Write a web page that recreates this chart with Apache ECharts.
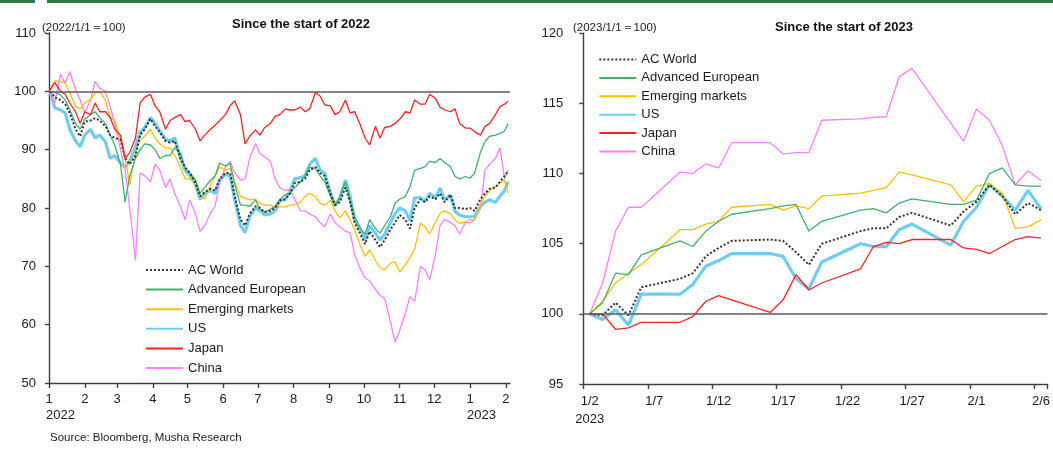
<!DOCTYPE html>
<html><head><meta charset="utf-8">
<script src="https://cdn.jsdelivr.net/npm/echarts@6/dist/echarts.min.js"></script>
<style>html,body{margin:0;padding:0;background:#fff}#c{width:1053px;height:452px}</style>
</head><body><div id="c"></div>
<script>
// ---------- texts ----------
const leftTitle = 'Since the start of 2022';
const rightTitle = 'Since the start of 2023';
const leftUnit = '(2022/1/1\uFF1D100)';
const rightUnit = '(2023/1/1\uFF1D100)';
const sourceText = 'Source: Bloomberg, Musha Research';
const names = ['AC World', 'Advanced European', 'Emerging markets', 'US', 'Japan', 'China'];

// ---------- left chart (since start of 2022) ----------
const leftAxisStart = '2022-01-01';
const leftAxisEnd = '2023-02-04 16:00';
const leftMonthTicks = ['2022-01-01','2022-02-01','2022-03-01','2022-04-01','2022-05-01','2022-06-01','2022-07-01','2022-08-01','2022-09-01','2022-10-01','2022-11-01','2022-12-01','2023-01-01','2023-02-01'];
const leftMonthLabels = ['1','2','3','4','5','6','7','8','9','10','11','12','1','2'];
const leftYearTicks = ['2022-01-01','2023-01-01'];
const leftYearLabels = ['2022','2023'];
const leftDates = ['2022-01-02','2022-01-06','2022-01-11','2022-01-15','2022-01-19','2022-01-24','2022-01-28','2022-02-01','2022-02-06','2022-02-10',
'2022-02-14','2022-02-19','2022-02-23','2022-02-27','2022-03-04','2022-03-08','2022-03-12','2022-03-17','2022-03-21','2022-03-25',
'2022-03-30','2022-04-03','2022-04-07','2022-04-12','2022-04-16','2022-04-20','2022-04-25','2022-04-29','2022-05-03','2022-05-08',
'2022-05-12','2022-05-16','2022-05-21','2022-05-25','2022-05-29','2022-06-03','2022-06-07','2022-06-11','2022-06-16','2022-06-20',
'2022-06-24','2022-06-29','2022-07-03','2022-07-07','2022-07-12','2022-07-16','2022-07-20','2022-07-25','2022-07-29','2022-08-02',
'2022-08-07','2022-08-11','2022-08-15','2022-08-20','2022-08-24','2022-08-28','2022-09-02','2022-09-06','2022-09-10','2022-09-15',
'2022-09-19','2022-09-23','2022-09-28','2022-10-02','2022-10-06','2022-10-11','2022-10-15','2022-10-19','2022-10-24','2022-10-28',
'2022-11-01','2022-11-06','2022-11-10','2022-11-14','2022-11-19','2022-11-23','2022-11-27','2022-12-02','2022-12-06','2022-12-10',
'2022-12-15','2022-12-19','2022-12-23','2022-12-28','2023-01-01','2023-01-05','2023-01-10','2023-01-14','2023-01-18','2023-01-23',
'2023-01-27','2023-01-31','2023-02-03'];

const leftACWorld = [100,99,98.5,97.8,96.3,93.5,92.3,94.8,95,95.4,
95,94,92.5,92,91.7,88.5,87.5,89,92.5,93.5,
95.3,94,93,91.5,91.2,91.5,88.5,87,86,84.3,
82,82.7,83.3,83,85,86,86,82,78,77,
79,80.3,80,79.3,79.5,80,81.3,81.5,82.5,84.3,
84.5,85,86.5,87,86,85.5,82.5,80.5,81,83.5,
81,77.5,75.5,73.8,76,74.5,73.3,74.5,76.3,77.5,
78.8,78,76.5,80,81.5,81,82,81.5,82.5,81,
82.3,80,80,79.8,80,79.5,81.5,82.5,83.3,83.5,
84.5,85.5,86.3];
const leftEurope = [100,99.8,99.4,98.5,96.8,94.5,93.5,95.2,96,96.5,
95.5,94.5,92.5,90.8,87.5,81,85.5,88.5,90,91,
90.8,90,88.5,89,89,90.3,89.5,86.8,86,84.8,
82.5,83.5,84.8,85.5,87.7,87.2,87.7,84,80.5,80.5,
80.3,81.4,79.7,79.3,79.8,80.3,81.4,82.3,82.5,83.5,
84.5,85.5,87,86.8,85.5,84.5,82,80.3,82,84.5,
81.5,78.5,76.5,75.5,78,76.5,75.7,77,78.5,80.8,
81.5,82,83.7,86.5,86.8,87.1,88,87.8,88.5,87.8,
87.1,85.4,85,85.4,85.1,86,89.5,91.4,92.3,92.5,
92.8,93.2,94.5];
const leftEM = [100,101.8,101.7,101.4,99.8,97.4,97,98,98.6,99.7,
100,98.5,95.5,95,91.5,88.8,84,89.5,91.7,92.3,
93.5,92,91,90.3,90.3,89,87,85,85,84.3,
82,81.5,84,85.5,87,86.5,86.8,84.5,82,81.7,
81.4,81.5,80.8,80.5,80.5,80,80.2,80.2,80.5,80.6,
81,82,82.5,82,80.8,80.5,81.3,79.5,78.3,79.5,
78,76.3,73.5,71.7,72.8,71,69.8,69.4,70.5,70.8,
69,70.3,71.5,73,77.4,76.8,75.5,77.5,79.1,79.5,
79,78,77.4,77.6,78,78,80.3,82,83,83.7,
84.3,84.8,82.5];
const leftUS = [100,97.2,96.8,96.3,93.5,91.5,90.5,92.5,93.5,92,
92.5,91.3,88.5,89,87.7,87,88,90.5,93,93.8,
95.5,94.5,93.2,91.8,91.5,92,88.5,86.5,85.6,84,
81.5,82.5,83,82.5,84.7,85.8,85.5,81.5,77,75.8,
78.5,80,79.5,78.8,79,79.5,81.2,81.5,83,85,
85.2,85.5,87.5,88.5,86.5,86,82.5,80.5,81.5,84.8,
82,78,76.3,74.5,77,75.7,74.5,75.5,77.5,79,
80,79.5,77.8,81.7,81.8,81.1,82.5,81.8,83.4,81.4,
82.2,79.4,78.8,78.5,78.5,78.5,80.3,81,81.4,81,
82,83,84.5];
const leftJapan = [100.3,101.5,100,99.5,98,96.5,94.5,96.5,96,98,
96.5,96.5,95.5,93.5,92.5,88.5,89.5,92,98,99,
99.5,97.5,96.5,93.5,95,95.5,96,94.8,95,93.5,
91.5,92.5,93.5,94.2,95,96,97.5,98.4,96,91,
92.3,93.4,92.5,93.8,94.5,95.7,96,97,96.8,96.8,
97.3,96.5,97,99.8,99.2,97.7,97.5,96,96.5,98.5,
96.3,96.5,94.2,92,90.8,94,92,93.8,94,94.5,
95.2,96.5,96.3,98.5,97.8,97.8,99.5,98.8,97.3,96.8,
96.5,97,94.5,93.7,93.7,93.1,92.5,94,94.5,96,
97.4,97.8,98.3];
const leftChina = [100,98,103,101.4,103.4,100.3,98.5,96.3,98.5,101.7,
100.5,100,97.5,94.5,90,86.5,80,71,86,85.5,
84.5,87.5,86.5,83.5,85,82.5,80.3,78,81.4,79,
76,77,79.1,80.3,84.5,87,88,86,84.8,85,
88.5,91,89.3,88.8,88,85,83.5,83,83.2,81.5,
79.5,79.5,79,78.5,77.5,76.8,79,77.5,76.8,76,
75.8,72,69.5,68,67.5,66,65,64.5,60.5,57,
59,62,64.8,64,70,69.4,67.7,72,77,78,
77.5,77,75.5,77.5,77.5,78,80,86.5,87.5,88.5,
90.3,85,86.5];

// ---------- right chart (since start of 2023) ----------
const rightDays = ['1/2','1/3','1/4','1/5','1/6','1/7','1/8','1/9','1/10','1/11','1/12','1/13','1/14','1/15','1/16','1/17','1/18','1/19','1/20','1/21','1/22','1/23','1/24','1/25','1/26','1/27','1/28','1/29','1/30','1/31','2/1','2/2','2/3','2/4','2/5','2/6'];
const rightYearLabel = '2023';
const rightDates = ['1/2','1/3','1/4','1/5','1/6','1/9','1/10','1/11','1/12','1/13','1/16','1/17','1/18','1/19','1/20','1/23','1/24','1/25','1/26','1/27','1/30','1/31','2/1','2/2','2/3','2/4','2/5','2/6'];
const rightACWorld = [100,99.9,100.8,99.9,101.9,102.5,102.9,104.1,104.7,105.2,105.3,105.2,104.4,103.5,105.0,105.9,106.1,106.1,106.9,107.2,106.3,107.3,108.0,109.2,108.4,107.1,107.9,107.4];
const rightEurope = [100,100.8,102.9,102.8,104.2,105.2,104.8,105.9,106.6,107.1,107.5,107.7,107.8,105.9,106.6,107.4,107.5,107.2,107.9,108.2,107.8,107.8,108.1,110.0,110.4,109.2,109.1,109.1];
const rightEM = [100,100.9,102.2,102.9,103.5,106.0,106.0,106.4,106.6,107.6,107.8,107.4,107.7,107.5,108.4,108.6,108.8,109.0,110.1,109.9,109.2,108.0,109.1,109.3,108.6,106.1,106.2,106.7];
const rightUS = [100,99.6,100.3,99.2,101.4,101.4,102.1,103.4,103.8,104.3,104.3,104.1,102.5,101.8,103.7,105.0,104.8,104.8,106.0,106.4,104.9,106.6,107.6,109.2,108.4,107.4,108.8,107.5];
const rightJapan = [100,100.0,98.9,99.0,99.4,99.4,99.8,100.9,101.3,101.0,100.1,101.0,102.8,101.7,102.2,103.2,104.8,105.1,105.0,105.3,105.3,104.7,104.6,104.3,104.8,105.3,105.5,105.4];
const rightChina = [100,102.2,105.9,107.6,107.6,110.1,110.0,110.7,110.4,112.2,112.2,111.4,111.5,111.5,113.8,113.9,114.0,114.05,116.9,117.5,113.6,112.3,114.6,113.8,112.0,109.2,110.2,109.5];

// ---------- styles ----------
const FONT = 'Liberation Sans, Arial, sans-serif';
const styles = {
  'AC World':          {color:'#333333', width:2,   type:'dotted'},
  'Advanced European': {color:'#3fb26a', width:1.3, type:'solid'},
  'Emerging markets':  {color:'#ffc000', width:1.3, type:'solid'},
  'US':                {color:'#6dcdf3', width:3.2, type:'solid'},
  'Japan':             {color:'#ff2020', width:1.3, type:'solid'},
  'China':             {color:'#ff80ff', width:1.3, type:'solid'}
};
const leftVals = {'AC World':leftACWorld,'Advanced European':leftEurope,'Emerging markets':leftEM,'US':leftUS,'Japan':leftJapan,'China':leftChina};
const rightVals = {'AC World':rightACWorld,'Advanced European':rightEurope,'Emerging markets':rightEM,'US':rightUS,'Japan':rightJapan,'China':rightChina};
const drawOrder = ['US','China','Emerging markets','Advanced European','AC World','Japan'];

const tp = s => +echarts.time.parse(s);
const leftMonthTs = leftMonthTicks.map(tp);
const leftYearTs = leftYearTicks.map(tp);
const baseLine = {silent:true, symbol:'none', label:{show:false}, lineStyle:{color:'#5a5a5a', width:1.5, type:'solid'}, data:[{yAxis:100}]};

const series = [];
drawOrder.forEach(n => {
  const st = styles[n];
  const s = {
    name:n, type:'line', xAxisIndex:0, yAxisIndex:0, symbol:'none', animation:false,
    lineStyle:{color:st.color, width:st.width, type:st.type}, itemStyle:{color:st.color},
    data: leftDates.map((d,i) => [tp(d), leftVals[n][i]])
  };
  if (n === 'Japan') s.markLine = baseLine;
  series.push(s);
});
drawOrder.forEach(n => {
  const st = styles[n];
  const s = {
    name:n, type:'line', xAxisIndex:2, yAxisIndex:1, symbol:'none', animation:false, connectNulls:true,
    lineStyle:{color:st.color, width:st.width, type:st.type}, itemStyle:{color:st.color},
    data: rightDays.map(d => { const k = rightDates.indexOf(d); return k < 0 ? null : rightVals[n][k]; })
  };
  if (n === 'Japan') s.markLine = baseLine;
  series.push(s);
});

const axisLineStyle = {color:'#404040', width:1.4};
const labelStyle = {color:'#1a1a1a', fontSize:13, fontFamily:FONT};
const legendText = {fontSize:13, color:'#1a1a1a', fontFamily:FONT};

const option = {
  backgroundColor:'#fff',
  animation:false,
  textStyle:{fontFamily:FONT},
  graphic:[
    {type:'rect', shape:{x:0,y:0,width:35,height:3}, style:{fill:'#2f7a42'}},
    {type:'rect', shape:{x:47,y:0,width:1006,height:3}, style:{fill:'#2f7a42'}}
  ],
  title:[
    {text:leftTitle, left:296, top:13, textAlign:'center', textStyle:{fontSize:13, fontWeight:'bold', color:'#111', fontFamily:FONT}},
    {text:rightTitle, left:839, top:15.5, textAlign:'center', textStyle:{fontSize:13, fontWeight:'bold', color:'#111', fontFamily:FONT}},
    {text:leftUnit, left:37, top:16.5, textStyle:{fontSize:11.5, fontWeight:'normal', color:'#1a1a1a', fontFamily:FONT}},
    {text:rightUnit, left:568, top:16.5, textStyle:{fontSize:11.5, fontWeight:'normal', color:'#1a1a1a', fontFamily:FONT}},
    {text:sourceText, left:45, top:427, textStyle:{fontSize:11.5, fontWeight:'normal', color:'#1a1a1a', fontFamily:FONT}}
  ],
  legend:[
    {data:names, orient:'vertical', left:140, top:258.5, itemWidth:37, itemHeight:14, itemGap:6.6,
     itemStyle:{opacity:0}, textStyle:legendText, selectedMode:false},
    {data:names, orient:'vertical', left:593.3, top:48, itemWidth:37, itemHeight:14, itemGap:5.4,
     itemStyle:{opacity:0}, textStyle:legendText, selectedMode:false}
  ],
  grid:[
    {left:49, top:33, width:461, height:350},
    {left:583.3, top:33.3, width:465.2, height:350.7}
  ],
  xAxis:[
    {type:'value', gridIndex:0, min:tp(leftAxisStart), max:tp(leftAxisEnd), position:'bottom', scale:true,
     axisLine:{onZero:false, lineStyle:axisLineStyle},
     axisTick:{show:true, length:5, customValues:leftMonthTs, lineStyle:axisLineStyle},
     axisLabel:Object.assign({customValues:leftMonthTs, margin:10, hideOverlap:false, showMinLabel:true, showMaxLabel:true,
       formatter:v => { const k = leftMonthTs.indexOf(+v); return k < 0 ? '' : leftMonthLabels[k]; }}, labelStyle),
     splitLine:{show:false}},
    {type:'value', gridIndex:0, min:tp(leftAxisStart), max:tp(leftAxisEnd), position:'bottom', scale:true,
     axisLine:{show:false, onZero:false}, axisTick:{show:false}, splitLine:{show:false},
     axisLabel:Object.assign({customValues:leftYearTs, margin:26, align:'left', padding:[0,0,0,-3], hideOverlap:false, showMinLabel:true,
       formatter:v => { const k = leftYearTs.indexOf(+v); return k < 0 ? '' : leftYearLabels[k]; }}, labelStyle)},
    {type:'category', gridIndex:1, data:rightDays, boundaryGap:true, position:'bottom',
     axisLine:{onZero:false, lineStyle:axisLineStyle},
     axisTick:{show:true, interval:4, length:5, alignWithLabel:false, lineStyle:axisLineStyle},
     axisLabel:Object.assign({interval:4, margin:8, lineHeight:18,
       formatter:(v,i) => i === 0 ? v + '\n' + rightYearLabel : v}, labelStyle),
     splitLine:{show:false}}
  ],
  yAxis:[
    {type:'value', gridIndex:0, min:50, max:110, interval:10,
     axisLine:{show:true, lineStyle:axisLineStyle}, axisTick:{show:true, length:4, lineStyle:axisLineStyle},
     axisLabel:Object.assign({margin:13}, labelStyle), splitLine:{show:false}},
    {type:'value', gridIndex:1, min:95, max:120, interval:5,
     axisLine:{show:true, lineStyle:axisLineStyle}, axisTick:{show:true, length:4, lineStyle:axisLineStyle},
     axisLabel:Object.assign({margin:20}, labelStyle), splitLine:{show:false}}
  ],
  series:series
};

const chart = echarts.init(document.getElementById('c'), null, {renderer:'canvas'});
chart.setOption(option);
</script></body></html>
